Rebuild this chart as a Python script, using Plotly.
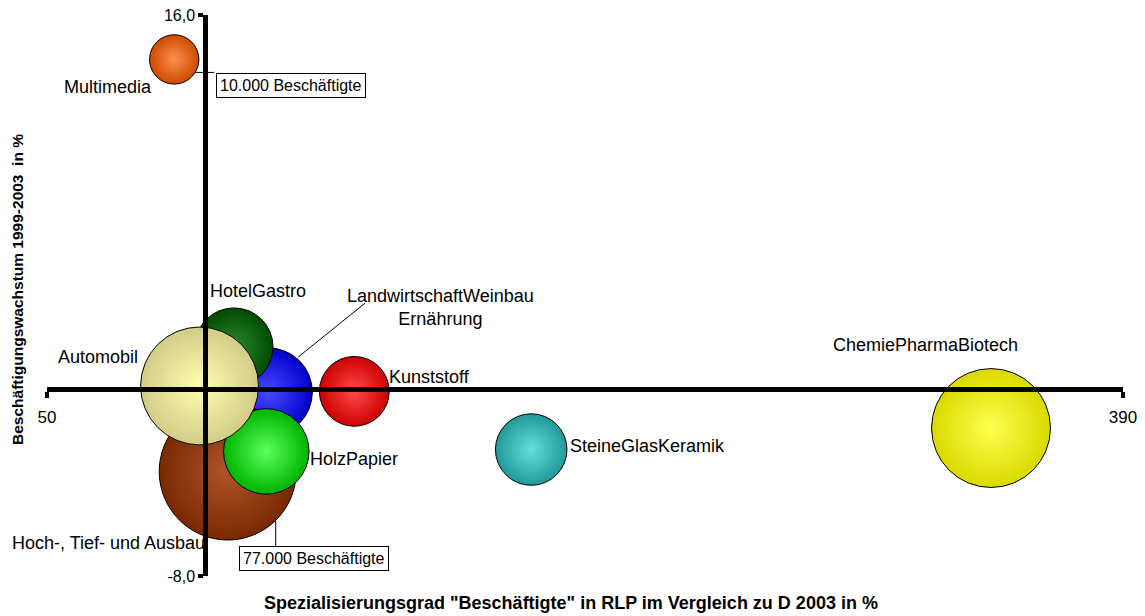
import plotly.graph_objects as go

# ---- data (draw order: first = bottom) ----
sectors = ["LandwirtschaftWeinbau<br>Ernährung", "HotelGastro", "Hoch-, Tief- und Ausbau",
           "HolzPapier", "Automobil", "Multimedia", "Kunststoff",
           "SteineGlasKeramik", "ChemiePharmaBiotech"]
spezialisierung = [119.9, 109.1, 107.1, 119.3, 98.2, 90.2, 147.1, 203.0, 348.3]
wachstum = [-0.13, 1.8, -3.53, -2.67, 0.13, 14.1, -0.1, -2.59, -1.67]
beschaeftigte = [32000, 25000, 77000, 30000, 57000, 10000, 20000, 21000, 58000]

x_range = [50, 390]
y_range = [-8, 16]
x_cross = 100
y_cross = 0
x_ticks = [50, 390]
y_ticks = [-8, 16]
x_ticklabels = [f"{v:d}" for v in x_ticks]
y_ticklabels = [f"{v:.1f}".replace(".", ",") for v in y_ticks]

# ---- styles ----
edge_colors = ["#0000CC", "#004A00", "#7A2800", "#00B400", "#D2CC88",
               "#CC4A00", "#CC0000", "#229999", "#DADA00"]
center_colors = ["#4848FF", "#2A8A2A", "#B0542C", "#5CFF5C", "#FFFFB0",
                 "#FF9050", "#FF4A4A", "#66DEDE", "#FFFF50"]

FONT = "Liberation Sans, Arial, sans-serif"
W, H = 1145, 616
ML, MR, MT, MB = 47, 22, 15, 40
max_diam = 137
sizeref = 2.0 * max(beschaeftigte) / (max_diam ** 2)

fig = go.Figure()
fig.add_trace(go.Scatter(
    x=spezialisierung, y=wachstum, mode="markers",
    marker=dict(size=beschaeftigte, sizemode="area", sizeref=sizeref,
                color=edge_colors, opacity=1,
                gradient=dict(type="radial", color=center_colors),
                line=dict(color="black", width=1)),
    cliponaxis=False, hoverinfo="skip", showlegend=False))

# label offsets (pixels) relative to each bubble centre
label_style = {
    "LandwirtschaftWeinbau<br>Ernährung": dict(xanchor="center", xshift=172, yshift=85),
    "HotelGastro": dict(xanchor="left", xshift=-26, yshift=56),
    "Hoch-, Tief- und Ausbau": dict(xanchor="right", xshift=-21, yshift=-71),
    "HolzPapier": dict(xanchor="left", xshift=42, yshift=-8),
    "Automobil": dict(xanchor="right", xshift=-60, yshift=29),
    "Multimedia": dict(xanchor="right", xshift=-20, yshift=-28),
    "Kunststoff": dict(xanchor="left", xshift=33, yshift=14),
    "SteineGlasKeramik": dict(xanchor="left", xshift=37, yshift=4),
    "ChemiePharmaBiotech": dict(xanchor="center", xshift=-66, yshift=83),
}
for name, xv, yv in zip(sectors, spezialisierung, wachstum):
    st = label_style[name]
    fig.add_annotation(x=xv, y=yv, text=name, showarrow=False, align="center",
                       yanchor="middle", font=dict(family=FONT, size=18, color="black"),
                       **st)

# size reference boxes
box_notes = {
    "Multimedia": ("10.000 Beschäftigte", 117, -26, [(21, -13), (40, -13)]),
    "Hoch-, Tief- und Ausbau": ("77.000 Beschäftigte", 86, -87, [(48, -49), (48, -76)]),
}
for name, (txt, dx, dy, line_pts) in box_notes.items():
    i = sectors.index(name)
    fig.add_annotation(x=spezialisierung[i], y=wachstum[i], text=txt, showarrow=False,
                       xanchor="center", yanchor="middle", xshift=dx, yshift=dy,
                       font=dict(family=FONT, size=16, color="black"),
                       bordercolor="black", borderwidth=1, borderpad=3, bgcolor="white")
    (x0, y0), (x1, y1) = line_pts
    fig.add_shape(type="line", xref="x", yref="y", xsizemode="pixel", ysizemode="pixel",
                  xanchor=spezialisierung[i], yanchor=wachstum[i],
                  x0=x0, y0=y0, x1=x1, y1=y1, line=dict(color="black", width=1))

# leader line for LandwirtschaftWeinbau label
i = 0
fig.add_shape(type="line", xref="x", yref="y", xsizemode="pixel", ysizemode="pixel",
              xanchor=spezialisierung[i], yanchor=wachstum[i],
              x0=30, y0=35, x1=97, y1=89, line=dict(color="black", width=1))

# axis titles
fig.add_annotation(xref="paper", yref="paper", x=(571 - ML) / (W - ML - MR), y=-(603 - (H - MB)) / (H - MT - MB),
                   text='Spezialisierungsgrad "Beschäftigte" in RLP im Vergleich zu D 2003 in %',
                   showarrow=False, xanchor="center", yanchor="middle",
                   font=dict(family=FONT, size=18, color="black", weight="bold"))
fig.add_annotation(xref="paper", yref="paper", x=-(ML - 17) / (W - ML - MR), y=1 - (290 - MT) / (H - MT - MB),
                   text="Beschäftigungswachstum 1999-2003\u00a0 in %", textangle=-90,
                   showarrow=False, xanchor="center", yanchor="middle",
                   font=dict(family=FONT, size=15.5, color="black", weight="bold"))

x_pos = (x_cross - x_range[0]) / (x_range[1] - x_range[0])
y_pos = (y_cross - y_range[0]) / (y_range[1] - y_range[0])

fig.update_layout(
    width=W, height=H, autosize=False,
    margin=dict(l=ML, r=MR, t=MT, b=MB, pad=0, autoexpand=False),
    paper_bgcolor="white", plot_bgcolor="white",
    font=dict(family=FONT, color="black"),
    xaxis=dict(range=x_range, anchor="free", position=y_pos, showgrid=False, zeroline=False,
               automargin=False,
               showline=True, linecolor="black", linewidth=5,
               ticks="outside", ticklen=6, tickwidth=4, tickcolor="black",
               tickvals=x_ticks, ticktext=x_ticklabels, ticklabelstandoff=5,
               tickfont=dict(family=FONT, size=17, color="black")),
    yaxis=dict(range=y_range, anchor="free", position=x_pos, showgrid=False, zeroline=False,
               automargin=False,
               showline=True, linecolor="black", linewidth=5,
               ticks="outside", ticklen=5, tickwidth=4, tickcolor="black",
               tickvals=y_ticks, ticktext=y_ticklabels,
               tickfont=dict(family=FONT, size=16, color="black")),
)

fig.write_html("out.html", config={"displayModeBar": False},
               post_script="document.body.style.margin='0';document.body.style.overflow='hidden';")
